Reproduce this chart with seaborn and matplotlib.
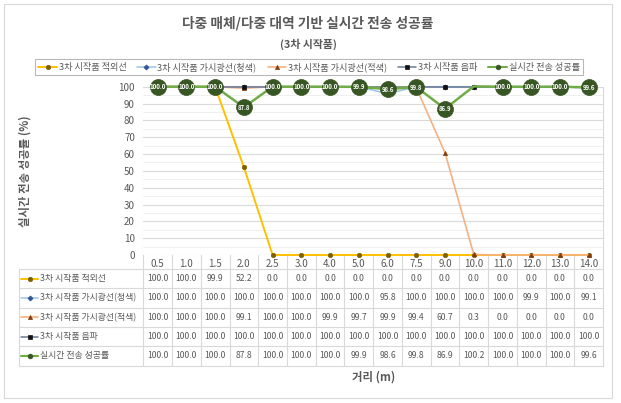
import numpy as np
import pandas as pd
import matplotlib
matplotlib.use("Agg")
import matplotlib.pyplot as plt
import seaborn as sns
from matplotlib.lines import Line2D
from matplotlib.patches import Rectangle
from matplotlib.transforms import blended_transform_factory

# ---------------- data ----------------
distances = ["0.5", "1.0", "1.5", "2.0", "2.5", "3.0", "4.0", "5.0", "6.0",
             "7.5", "9.0", "10.0", "11.0", "12.0", "13.0", "14.0"]
series_names = ["3차 시작품 적외선", "3차 시작품 가시광선(청색)",
                "3차 시작품 가시광선(적색)", "3차 시작품 음파", "실시간 전송 성공률"]
ir_vals = [100.0, 100.0, 99.9, 52.2, 0.0, 0.0, 0.0, 0.0, 0.0, 0.0, 0.0, 0.0, 0.0, 0.0, 0.0, 0.0]
blue_vals = [100.0, 100.0, 100.0, 100.0, 100.0, 100.0, 100.0, 100.0, 95.8, 100.0, 100.0, 100.0, 100.0, 99.9, 100.0, 99.1]
red_vals = [100.0, 100.0, 100.0, 99.1, 100.0, 100.0, 99.9, 99.7, 99.9, 99.4, 60.7, 0.3, 0.0, 0.0, 0.0, 0.0]
sound_vals = [100.0] * 16
total_vals = [100.0, 100.0, 100.0, 87.8, 100.0, 100.0, 100.0, 99.9, 98.6, 99.8, 86.9, 100.2, 100.0, 100.0, 100.0, 99.6]
y_ticks = list(range(0, 101, 10))

title = "다중 매체/다중 대역 기반 실시간 전송 성공률"
subtitle = "(3차 시작품)"
y_label = "실시간 전송 성공률 (%)"
x_label = "거리 (m)"

all_vals = [ir_vals, blue_vals, red_vals, sound_vals, total_vals]

# ---------------- styles ----------------
styles = [
    dict(color="#FFC000", lw=1.4, marker="o", ms=3.2, mfc="#7F6000", mec="#7F6000"),
    dict(color="#9DC3E6", lw=1.1, marker="D", ms=2.6, mfc="#2F5597", mec="#2F5597"),
    dict(color="#F4B183", lw=1.2, marker="^", ms=3.0, mfc="#843C0C", mec="#843C0C"),
    dict(color="#6B7A96", lw=1.1, marker="s", ms=3.2, mfc="#111111", mec="#111111"),
    dict(color="#70AD47", lw=1.8, marker="o", ms=11.5, mfc="#375623", mec="#375623"),
]
legend_ms = [3.2, 2.6, 3.0, 3.2, 3.4]

sns.set_theme(style="white")
plt.rcParams["font.family"] = ["Noto Sans CJK KR", "DejaVu Sans"]
plt.rcParams["axes.unicode_minus"] = False

W, H = 621, 403
fig = plt.figure(figsize=(W / 100, H / 100), dpi=100)

def fx(px):
    return px / W

def fy(py):
    return 1 - py / H

# plot geometry (pixels)
L, R, T, B = 143.3, 603.1, 86.7, 255.0
ax = fig.add_axes([fx(L), fy(B), fx(R - L), (B - T) / H])

rows = []
for name, vals in zip(series_names, all_vals):
    for i, (d, v) in enumerate(zip(distances, vals)):
        rows.append(dict(pos=i, dist=d, value=v, series=name))
df = pd.DataFrame(rows)

gray_text = "#595959"
grid_c = "#D9D9D9"

for k, (name, st) in enumerate(zip(series_names, styles)):
    sub = df[df["series"] == name]
    keep = [i for i, v in enumerate(sub["value"]) if v <= 100.0]
    sns.lineplot(data=sub, x="pos", y="value", ax=ax, sort=False,
                 color=st["color"], linewidth=st["lw"], marker=st["marker"],
                 markersize=st["ms"], markerfacecolor=st["mfc"],
                 markeredgecolor=st["mec"], markeredgewidth=0.5,
                 markevery=keep, clip_on=False, legend=False, zorder=3 + k,
                 errorbar=None)

# data labels on the green series
for i, v in enumerate(total_vals):
    if v <= 100.0:
        ax.text(i, v, f"{v:.1f}", ha="center", va="center", color="white",
                fontsize=4.4, fontweight="bold", zorder=20, clip_on=False)

ax.set_xlim(-0.5, len(distances) - 0.5)
ax.set_ylim(0, 100)
ax.set_yticks(y_ticks)
ax.set_yticklabels([str(t) for t in y_ticks])
ax.set_yticks(np.arange(5, 100, 10), minor=True)
ax.set_xticks(range(len(distances)))
ax.set_xticklabels(distances)
ax.tick_params(axis="y", length=0, pad=6, labelsize=7, labelcolor=gray_text)
ax.tick_params(axis="x", length=0, pad=3, labelsize=7, labelcolor=gray_text)
ax.grid(True, axis="y", which="major", color=grid_c, lw=0.8)
ax.grid(True, axis="y", which="minor", color="#EDEDED", lw=0.6)
ax.set_axisbelow(True)
for s in ax.spines.values():
    s.set_visible(False)
ax.set_xlabel("")
ax.set_ylabel("")

# vertical lines at category boundaries (plot + table)
bt = blended_transform_factory(ax.transData, fig.transFigure)
table_top, row_h = 269.0, 19.3
n_rows = len(series_names)
table_bot = table_top + row_h * n_rows
for b in np.arange(-0.5, len(distances), 1.0):
    fig.add_artist(Line2D([b, b], [fy(T), fy(table_bot)], transform=bt,
                          color=grid_c, lw=0.8, zorder=0))

# table horizontal lines
TL = 19.0
for r in range(n_rows + 1):
    yy = fy(table_top + r * row_h)
    fig.add_artist(Line2D([fx(TL), fx(R)], [yy, yy], transform=fig.transFigure,
                          color=grid_c, lw=0.8))
fig.add_artist(Line2D([fx(TL), fx(TL)], [fy(table_top), fy(table_bot)],
                      transform=fig.transFigure, color=grid_c, lw=0.8))

# table contents
for r, (name, vals, st) in enumerate(zip(series_names, all_vals, styles)):
    yc = fy(table_top + (r + 0.5) * row_h)
    fig.add_artist(Line2D([fx(21), fx(38)], [yc, yc], transform=fig.transFigure,
                          color=st["color"], lw=min(st["lw"], 1.5)))
    fig.add_artist(Line2D([fx(29.5)], [yc], transform=fig.transFigure,
                          marker=st["marker"], ms=legend_ms[r], mfc=st["mfc"],
                          mec=st["mec"], mew=0.5, lw=0))
    fig.text(fx(40), yc, name, ha="left", va="center", fontsize=6.4,
             color=gray_text)
    for i, v in enumerate(vals):
        fig.text(i, yc, f"{v:.1f}", transform=bt, ha="center", va="center",
                 fontsize=6.2, color=gray_text)

# titles and axis labels
fig.text(fx(308), fy(23.5), title, ha="center", va="center", fontsize=9.9,
         fontweight="bold", color=gray_text)
fig.text(fx(308), fy(44), subtitle, ha="center", va="center", fontsize=7.8,
         fontweight="bold", color=gray_text)
fig.text(fx(25), fy((T + B) / 2), y_label, ha="center", va="center",
         rotation=90, fontsize=8.2, fontweight="bold", color=gray_text)
fig.text(fx((L + R) / 2), fy(377), x_label, ha="center", va="center",
         fontsize=8.2, fontweight="bold", color=gray_text)

# legend
handles = [Line2D([], [], color=st["color"], lw=min(st["lw"], 1.5),
                  marker=st["marker"], ms=legend_ms[k], mfc=st["mfc"],
                  mec=st["mec"], mew=0.5)
           for k, st in enumerate(styles)]
leg = fig.legend(handles, series_names, loc="center",
                 bbox_to_anchor=(fx(309), fy(67)), ncol=5, fontsize=6.6,
                 frameon=True, fancybox=False, edgecolor="#A6A6A6",
                 handlelength=2.0, handletextpad=0.2, columnspacing=1.2,
                 borderpad=0.35, labelcolor=gray_text)
leg.get_frame().set_linewidth(0.8)

# outer border
fig.add_artist(Rectangle((fx(4), fy(398)), fx(608), (394) / H,
                         transform=fig.transFigure, fill=False,
                         edgecolor="#D9D9D9", lw=0.8))

fig.savefig("out.png", dpi=100)
